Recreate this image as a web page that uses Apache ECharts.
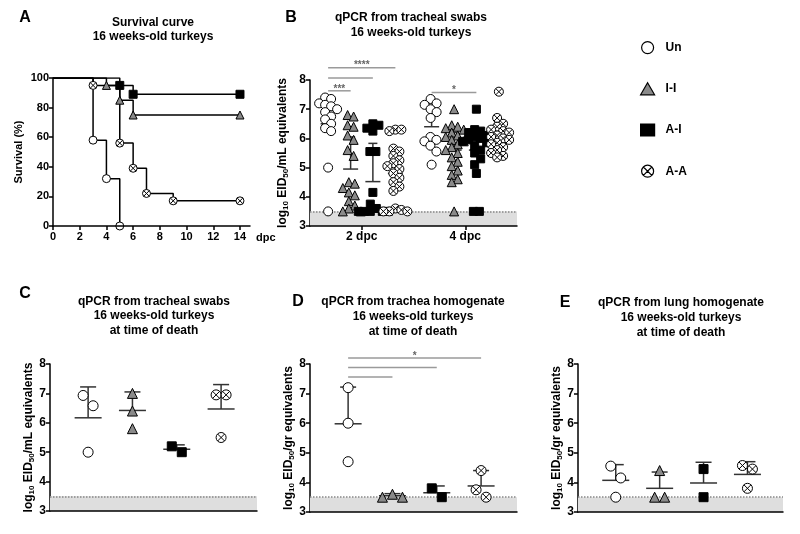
<!DOCTYPE html>
<html><head><meta charset="utf-8">
<script src="https://cdn.jsdelivr.net/npm/echarts@6/dist/echarts.min.js"></script>
<style>html,body{margin:0;padding:0;background:#fff}#c{width:800px;height:534px}</style>
</head><body><div id="c"></div>
<script>
// ---------------- DATA ----------------
const groupNames = ['Un', 'I-I', 'A-I', 'A-A'];

// Panel A: survival (%) by day post challenge
const survUnDays = [0, 3, 4, 5];            const survUn = [100, 58, 32, 0];
const survIIDays = [0, 4, 5, 6, 14];        const survII = [100, 95, 85, 75, 75];
const survAIDays = [0, 5, 6, 14];           const survAI = [100, 95, 89, 89];
const survAADays = [0, 3, 5, 6, 7, 9, 14];  const survAA = [100, 95, 56, 39, 22, 17, 17];
const survTicks = [0, 2, 4, 6, 8, 10, 12, 14];

// Panel B: tracheal swabs, log10 EID50/mL
const bDays = ['2 dpc', '4 dpc'];
const b2Un = [7.4, 7.35, 7.2, 7.15, 7.1, 7.0, 6.9, 6.75, 6.65, 6.5, 6.35, 6.25, 5.0, 3.5];
const b2II = [6.8, 6.75, 6.45, 6.4, 6.1, 5.95, 5.6, 5.4, 4.5, 4.45, 4.3, 4.15, 4.05, 3.85, 3.7, 3.6, 3.5, 3.5];
const b2AI = [6.5, 6.45, 6.35, 6.25, 5.55, 5.55, 4.15, 3.75, 3.6, 3.5, 3.5, 3.5, 3.5, 3.5];
const b2AA = [6.3, 6.3, 6.25, 5.65, 5.55, 5.4, 5.25, 5.15, 5.05, 4.95, 4.8, 4.65, 4.5, 4.35, 4.2, 3.6, 3.55, 3.5, 3.5, 3.5];
const b4Un = [7.35, 7.2, 7.15, 7.0, 6.9, 6.7, 6.05, 5.95, 5.9, 5.75, 5.55, 5.1];
const b4II = [7.0, 6.45, 6.4, 6.35, 6.3, 6.2, 6.1, 6.05, 5.95, 5.9, 5.8, 5.7, 5.6, 5.5, 5.35, 5.2, 5.05, 4.9, 4.75, 4.6, 4.5, 3.5];
const b4AI = [7.0, 6.3, 6.25, 6.2, 6.1, 6.05, 6.0, 5.95, 5.9, 5.85, 5.75, 5.6, 5.5, 5.3, 5.1, 4.8, 3.5, 3.5];
const b4AA = [7.6, 6.7, 6.5, 6.4, 6.3, 6.25, 6.2, 6.1, 6.05, 6.0, 5.95, 5.85, 5.8, 5.7, 5.6, 5.5, 5.4, 5.35];
const b2Mean = [6.5, 4.95, 4.52, 4.8];   const b2Upper = [7.45, 6.05, 5.83, 5.65];
const b4Mean = [6.4, 5.6, 5.6, 6.0];     const b4Upper = [7.05, 6.2, 6.25, 6.55];

// Panel C: tracheal swabs at time of death
const cUn = [6.93, 6.58, 5.0]; const cII = [7.0, 6.4, 5.8]; const cAI = [5.0, 5.2]; const cAA = [6.95, 6.95, 5.5];
const cMean = [6.17, 6.42, 5.1, 6.47];  const cUpper = [7.22, 7.05, 5.25, 7.3];
// Panel D: trachea homogenate
const dUn = [7.2, 6.0, 4.7]; const dII = [3.6, 3.5, 3.5]; const dAI = [3.5, 3.8]; const dAA = [4.4, 3.75, 3.5];
const dMean = [5.98, 3.55, 3.65, 3.88]; const dUpper = [7.22, 3.62, 3.88, 4.4];
// Panel E: lung homogenate
const eUn = [4.55, 4.15, 3.5]; const eII = [4.4, 3.5, 3.5]; const eAI = [4.45, 3.5]; const eAA = [4.57, 4.45, 3.8];
const eMean = [4.07, 3.8, 3.98, 4.27];  const eUpper = [4.6, 4.35, 4.68, 4.7];

const detectionLimit = 3.5;
// significance comparisons (group indexes, bar level in axis units, label)
const bSig = [
  {day: 0, from: 0, to: 3, level: 8.42, label: '****'},
  {day: 0, from: 0, to: 2, level: 8.07, label: ''},
  {day: 0, from: 0, to: 1, level: 7.63, label: '***'},
  {day: 1, from: 0, to: 2, level: 7.57, label: '*'}
];
const dSig = [
  {from: 0, to: 3, level: 8.2, label: '*'},
  {from: 0, to: 2, level: 7.88, label: ''},
  {from: 0, to: 1, level: 7.56, label: ''}
];

// ---------------- STYLE ----------------
const FONT = 'Liberation Sans';
const crossPath = 'path://M0,-10A10,10 0 1,1 0,10A10,10 0 1,1 0,-10Z M-7,-7L7,7 M7,-7L-7,7';
const symbols = [
  {symbol: 'circle', color: '#ffffff'},
  {symbol: 'triangle', color: '#8a8a8a'},
  {symbol: 'rect', color: '#000000'},
  {symbol: crossPath, color: '#ffffff'}
];
const bOffsets = [-1.3, -0.43, 0.43, 1.3];
const bCenters = [2, 6];

function dodge(vals, ppu, band, minDx, step) {
  const idx = vals.map((v, i) => i).sort((a, b) => vals[b] - vals[a]);
  const placed = []; const off = new Array(vals.length).fill(0);
  for (const i of idx) {
    const y = vals[i] * ppu;
    for (let k = 0; k < 400; k++) {
      const dx = k === 0 ? 0 : (k % 2 ? 1 : -1) * Math.ceil(k / 2) * step;
      if (placed.every(p => Math.abs(p.y - y) >= band || Math.abs(p.x - dx) >= minDx)) {
        placed.push({x: dx, y}); off[i] = dx; break;
      }
    }
  }
  let cluster = [idx[0]];
  const flush = () => { const m = cluster.reduce((s, i) => s + off[i], 0) / cluster.length; cluster.forEach(i => off[i] -= m); };
  for (let j = 1; j < idx.length; j++) {
    if ((vals[idx[j - 1]] - vals[idx[j]]) * ppu < band) cluster.push(idx[j]);
    else { flush(); cluster = [idx[j]]; }
  }
  flush();
  return off;
}

function scatterSeries(name, gi, xPos, vals, size, ppu, band, minDx) {
  const off = dodge(vals, ppu, band, minDx, 1);
  const s = symbols[groupNames.indexOf(name)];
  return {
    type: 'scatter', name, xAxisIndex: gi, yAxisIndex: gi, z: 5,
    symbol: s.symbol, symbolSize: size,
    itemStyle: {color: s.color, borderColor: '#000', borderWidth: 1, opacity: 1},
    data: vals.map((v, i) => ({value: [xPos, v], symbolOffset: [off[i], 0]})),
    silent: true
  };
}

function errSeries(gi, xs, means, uppers, mw, cw) {
  return {
    type: 'custom', xAxisIndex: gi, yAxisIndex: gi, z: 3, silent: true,
    data: xs.map((x, i) => [x, means[i], uppers[i]]),
    encode: {x: 0, y: [1, 2]},
    renderItem: (params, api) => {
      const pm = api.coord([api.value(0), api.value(1)]);
      const ph = api.coord([api.value(0), api.value(2)]);
      const st = {stroke: '#333', lineWidth: 1.5};
      return {type: 'group', children: [
        {type: 'line', shape: {x1: pm[0] - mw / 2, y1: pm[1], x2: pm[0] + mw / 2, y2: pm[1]}, style: st},
        {type: 'line', shape: {x1: pm[0], y1: pm[1], x2: ph[0], y2: ph[1]}, style: st},
        {type: 'line', shape: {x1: ph[0] - cw / 2, y1: ph[1], x2: ph[0] + cw / 2, y2: ph[1]}, style: st}
      ]};
    }
  };
}

function bandSeries(gi) {
  return {
    type: 'line', xAxisIndex: gi, yAxisIndex: gi, data: [], silent: true, z: 1,
    markArea: {silent: true, itemStyle: {color: '#dedede'}, data: [[{yAxis: 3}, {yAxis: detectionLimit}]]},
    markLine: {silent: true, symbol: ['none', 'none'], label: {show: false},
      lineStyle: {type: 'dotted', color: '#888', width: 1.5}, data: [{yAxis: detectionLimit}]}
  };
}

const axisLineStyle = {show: true, onZero: false, lineStyle: {color: '#000', width: 1.5}};
const tickStyle = {show: true, length: 4, lineStyle: {color: '#000', width: 1.5}};
const labelStyle = {color: '#000', fontSize: 12, fontWeight: 'bold', fontFamily: FONT, margin: 4};

function yName(unit) {
  return '{a|log}{s|10}{a| EID}{s|50}{a|/' + unit + ' equivalents}';
}
const richName = {
  a: {fontSize: 12, fontWeight: 'bold', color: '#000', fontFamily: FONT, lineHeight: 14},
  s: {fontSize: 8, fontWeight: 'bold', color: '#000', fontFamily: FONT, lineHeight: 6, verticalAlign: 'bottom'}
};
function logYAxis(gi, unit, gap) {
  return {
    type: 'value', gridIndex: gi, min: 3, max: 8, interval: 1,
    axisLine: axisLineStyle, axisTick: tickStyle, axisLabel: labelStyle, splitLine: {show: false},
    name: yName(unit), nameLocation: 'middle', nameRotate: 90, nameGap: gap,
    nameTextStyle: {rich: richName}
  };
}
function plainXAxis(gi) {
  return {type: 'value', gridIndex: gi, min: 0.14, max: 4.81, z: 10,
    axisLine: axisLineStyle, axisTick: {show: false}, axisLabel: {show: false}, splitLine: {show: false}};
}

// ---------------- OPTION ----------------
const series = [];
// Panel A
const survSets = [[survUnDays, survUn], [survIIDays, survII], [survAIDays, survAI], [survAADays, survAA]];
survSets.forEach((set, g) => {
  const s = symbols[g];
  series.push({
    type: 'line', name: groupNames[g], xAxisIndex: 0, yAxisIndex: 0, step: 'end',
    symbol: s.symbol, symbolSize: 8, showAllSymbol: true, z: 5,
    lineStyle: {color: '#000', width: 1.5},
    itemStyle: {color: s.color, borderColor: '#000', borderWidth: 1},
    data: set[0].map((d, i) => i === 0 ? {value: [d, set[1][i]], symbol: 'none'} : [d, set[1][i]]),
    silent: true, animation: false
  });
});
// Panel B
series.push(bandSeries(1));
const bSets = [[b2Un, b2II, b2AI, b2AA], [b4Un, b4II, b4AI, b4AA]];
const bMeans = [[b2Mean, b2Upper], [b4Mean, b4Upper]];
bSets.forEach((sets, d) => {
  const xs = bOffsets.map(o => bCenters[d] + o);
  series.push(errSeries(1, xs, bMeans[d][0], bMeans[d][1], 15, 9));
  sets.forEach((vals, g) => series.push(scatterSeries(groupNames[g], 1, xs[g], vals, g === 2 ? 8 : 9, 29.2, 7, 6)));
});
// Panels C, D, E
const lowSets = [
  {gi: 2, sets: [cUn, cII, cAI, cAA], mean: cMean, upper: cUpper},
  {gi: 3, sets: [dUn, dII, dAI, dAA], mean: dMean, upper: dUpper},
  {gi: 4, sets: [eUn, eII, eAI, eAA], mean: eMean, upper: eUpper}
];
lowSets.forEach(p => {
  series.push(bandSeries(p.gi));
  const xs = [1, 2, 3, 4];
  series.push(errSeries(p.gi, xs, p.mean, p.upper, 27, 16));
  p.sets.forEach((vals, g) => series.push(scatterSeries(groupNames[g], p.gi, xs[g], vals, g === 2 ? 9 : 10, 29.4, 12, 10)));
});

const option = {
  animation: false,
  textStyle: {fontFamily: FONT},
  grid: [
    {left: 53, top: 78, width: 197, height: 148},
    {left: 310, top: 80, width: 207, height: 146},
    {left: 50, top: 364, width: 207, height: 147},
    {left: 310, top: 364, width: 207, height: 148},
    {left: 578, top: 364, width: 205, height: 148}
  ],
  xAxis: [
    {type: 'value', gridIndex: 0, min: 0, max: 14.75, interval: 2, z: 10,
      axisLine: axisLineStyle, axisTick: Object.assign({}, tickStyle, {customValues: survTicks}),
      axisLabel: Object.assign({}, labelStyle, {fontSize: 11, margin: 5, customValues: survTicks}),
      splitLine: {show: false}},
    {type: 'value', gridIndex: 1, min: 0, max: 8, z: 10,
      axisLine: axisLineStyle, axisTick: Object.assign({}, tickStyle, {customValues: bCenters}),
      axisLabel: Object.assign({}, labelStyle, {margin: 5, customValues: bCenters,
        formatter: v => bDays[bCenters.indexOf(v)] || ''}),
      splitLine: {show: false}},
    plainXAxis(2), plainXAxis(3), plainXAxis(4)
  ],
  yAxis: [
    {type: 'value', gridIndex: 0, min: 0, max: 100, interval: 20,
      axisLine: axisLineStyle, axisTick: tickStyle, axisLabel: Object.assign({}, labelStyle, {fontSize: 11}),
      splitLine: {show: false},
      name: 'Survival (%)', nameLocation: 'middle', nameRotate: 90, nameGap: 29,
      nameTextStyle: {fontSize: 11, fontWeight: 'bold', color: '#000', fontFamily: FONT}},
    logYAxis(1, 'mL', 20),
    logYAxis(2, 'mL', 12),
    logYAxis(3, 'gr', 11),
    logYAxis(4, 'gr', 11)
  ],
  legend: {
    orient: 'vertical', left: 635, top: 36, itemGap: 28, itemWidth: 14, itemHeight: 12,
    selectedMode: false,
    textStyle: {fontSize: 12, fontWeight: 'bold', color: '#000', fontFamily: FONT, padding: [0, 0, 0, 6]},
    data: groupNames.map((n, g) => ({name: n, icon: symbols[g].symbol,
      itemStyle: {color: symbols[g].color, borderColor: '#000', borderWidth: 1.2}}))
  },
  series
};

const chart = echarts.init(document.getElementById('c'), null, {renderer: 'canvas'});
chart.setOption(option);

// ---------------- ANNOTATIONS ----------------
const els = [];
function txt(t, x, y, size, opts) {
  els.push({type: 'text', silent: true, style: Object.assign({
    text: t, x, y, align: 'center', textAlign: 'center', verticalAlign: 'middle', textVerticalAlign: 'middle',
    fontSize: size, fontWeight: 'bold', fontFamily: FONT, fill: '#000'}, opts || {})});
}
// panel letters
txt('A', 25, 18, 16); txt('B', 291, 18, 16); txt('C', 25, 294, 16); txt('D', 298, 302, 16); txt('E', 565, 303, 16);
// titles
txt('Survival curve', 153, 23, 12); txt('16 weeks-old turkeys', 153, 37, 12);
txt('qPCR from tracheal swabs', 411, 18, 12); txt('16 weeks-old turkeys', 411, 33, 12);
txt('qPCR from tracheal swabs', 154, 302, 12); txt('16 weeks-old turkeys', 154, 316, 12); txt('at time of death', 154, 331, 12);
txt('qPCR from trachea homogenate', 413, 302, 12); txt('16 weeks-old turkeys', 413, 317, 12); txt('at time of death', 413, 332, 12);
txt('qPCR from lung homogenate', 681, 303, 12); txt('16 weeks-old turkeys', 681, 318, 12); txt('at time of death', 681, 333, 12);
txt('dpc', 256, 238, 11, {align: 'left', textAlign: 'left'});

function sigLine(gi, x1, x2, level, label) {
  const p1 = chart.convertToPixel({gridIndex: gi}, [x1, level]);
  const p2 = chart.convertToPixel({gridIndex: gi}, [x2, level]);
  els.push({type: 'line', silent: true, shape: {x1: p1[0], y1: p1[1], x2: p2[0], y2: p2[1]},
    style: {stroke: '#9a9a9a', lineWidth: 1.5}});
  if (label) txt(label, (p1[0] + p2[0]) / 2, p1[1] + 3, 10, {verticalAlign: 'bottom', textVerticalAlign: 'bottom', fill: '#666'});
}
bSig.forEach(s => sigLine(1, bCenters[s.day] + bOffsets[s.from], bCenters[s.day] + bOffsets[s.to], s.level, s.label));
dSig.forEach(s => sigLine(3, s.from + 1, s.to + 1, s.level, s.label));

chart.setOption({graphic: {elements: els}});
</script>
</body></html>
